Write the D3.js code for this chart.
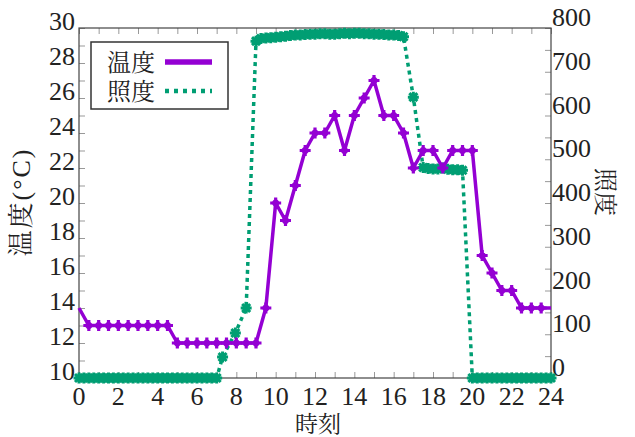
<!DOCTYPE html>
<html>
<head>
<meta charset="utf-8">
<script src="https://cdn.jsdelivr.net/npm/d3@7"></script>
<style>
  body { margin: 0; background: #fff; }
  text { font-family: "Liberation Serif", "Noto Serif CJK JP", "Noto Sans CJK JP", serif; fill: #222; }
</style>
</head>
<body>
<svg width="635" height="437"></svg>
<script>
// temperature, every half hour
const tempTime = [0, 0.5, 1, 1.5, 2, 2.5, 3, 3.5, 4, 4.5, 5, 5.5, 6, 6.5, 7, 7.5, 8, 8.5, 9, 9.5,
    10, 10.5, 11, 11.5, 12, 12.5, 13, 13.5, 14, 14.5, 15, 15.5, 16, 16.5, 17, 17.5, 18, 18.5, 19, 19.5,
    20, 20.5, 21, 21.5, 22, 22.5, 23, 23.5, 24];
const tempValue = [14, 13, 13, 13, 13, 13, 13, 13, 13, 13, 12, 12, 12, 12, 12, 12, 12, 12, 12, 14,
    20, 19, 21, 23, 24, 24, 25, 23, 25, 26, 27, 25, 25, 24, 22, 23, 23, 22, 23, 23,
    23, 17, 16, 15, 15, 14, 14, 14, 14];

// illuminance
const lightTime = [0, 0.25, 0.5, 0.75, 1, 1.25, 1.5, 1.75, 2, 2.25, 2.5, 2.75, 3, 3.25, 3.5, 3.75,
    4, 4.25, 4.5, 4.75, 5, 5.25, 5.5, 5.75, 6, 6.25, 6.5, 6.75, 7,
    7.3, 7.95, 8.5,
    9, 9.25, 9.5, 9.75, 10, 10.25, 10.5, 10.75, 11, 11.25, 11.5, 11.75, 12, 12.25, 12.5, 12.75,
    13, 13.25, 13.5, 13.75, 14, 14.25, 14.5, 14.75, 15, 15.25, 15.5, 15.75, 16, 16.25, 16.5,
    17, 17.5, 17.75, 18, 18.25, 18.5, 18.75, 19, 19.25, 19.5,
    20, 20.25, 20.5, 20.75, 21, 21.25, 21.5, 21.75, 22, 22.25, 22.5, 22.75, 23, 23.25, 23.5, 23.75, 24];
const lightValue = [0, 0, 0, 0, 0, 0, 0, 0, 0, 0, 0, 0, 0, 0, 0, 0,
    0, 0, 0, 0, 0, 0, 0, 0, 0, 0, 0, 0, 0,
    48, 103, 160,
    770, 776, 777, 778, 779, 780, 781, 783, 784, 784, 785, 786, 786, 787, 787, 786,
    786, 787, 788, 787, 788, 788, 787, 787, 786, 786, 785, 784, 784, 783, 780,
    642, 481, 479, 478, 478, 480, 477, 476, 476, 475,
    0, 0, 0, 0, 0, 0, 0, 0, 0, 0, 0, 0, 0, 0, 0, 0, 0];

const xTicks = [0, 2, 4, 6, 8, 10, 12, 14, 16, 18, 20, 22, 24];
const tempTicks = [10, 12, 14, 16, 18, 20, 22, 24, 26, 28, 30];
const lightTicks = [0, 100, 200, 300, 400, 500, 600, 700, 800];

const svg = d3.select("svg");
const margin = {left: 79, right: 84, top: 28, bottom: 59};
const W = 635, H = 437;

const x = d3.scaleLinear().domain([0, 24]).range([margin.left, W - margin.right]);
const yT = d3.scaleLinear().domain([10, 30]).range([H - margin.bottom, margin.top]);
const yL = d3.scaleLinear().domain([0, 800]).range([H - margin.bottom, margin.top]);

const purple = "#9400d3";
const green = "#009e73";
const axisColor = "#444";

// axes: ticks pointing inward
svg.append("g")
    .attr("transform", `translate(0,${H - margin.bottom})`)
    .call(d3.axisBottom(x).tickValues(d3.range(0, 25, 1)).tickSize(-6).tickFormat(""))
    .call(g => g.select(".domain").remove());
svg.append("g")
    .attr("transform", `translate(0,${margin.top})`)
    .call(d3.axisTop(x).tickValues(d3.range(0, 25, 1)).tickSize(-6).tickFormat(""))
    .call(g => g.select(".domain").remove());
svg.append("g")
    .attr("transform", `translate(${margin.left},0)`)
    .call(d3.axisLeft(yT).tickValues(d3.range(10, 31, 1)).tickSize(-6).tickFormat(""))
    .call(g => g.select(".domain").remove());
svg.append("g")
    .attr("transform", `translate(${W - margin.right},0)`)
    .call(d3.axisRight(yL).tickValues(d3.range(0, 801, 50)).tickSize(-6).tickFormat(""))
    .call(g => g.select(".domain").remove());
svg.selectAll(".tick line").attr("stroke", "#999").attr("stroke-width", 1);

// frame
svg.append("rect")
    .attr("x", margin.left).attr("y", margin.top)
    .attr("width", W - margin.left - margin.right)
    .attr("height", H - margin.top - margin.bottom)
    .attr("fill", "none").attr("stroke", axisColor).attr("stroke-width", 1.2);

// tick labels (the reference sets the y labels a little above their ticks)
svg.append("g").selectAll("text").data(xTicks).enter().append("text")
    .attr("x", d => x(d)).attr("y", H - margin.bottom + 27)
    .attr("text-anchor", "middle").attr("font-size", 26).text(d => d);
svg.append("g").selectAll("text").data(tempTicks).enter().append("text")
    .attr("x", margin.left - 4).attr("y", d => yT(d) + 2)
    .attr("text-anchor", "end").attr("font-size", 26).text(d => d);
svg.append("g").selectAll("text").data(lightTicks).enter().append("text")
    .attr("x", W - margin.right + 1).attr("y", d => yL(d) - 2)
    .attr("text-anchor", "start").attr("font-size", 26).text(d => d);

// axis titles
svg.append("text").attr("x", 318).attr("y", 432).attr("text-anchor", "middle")
    .attr("font-size", 23).text("時刻");
svg.append("text").attr("transform", "translate(30,202) rotate(-90)").attr("text-anchor", "middle")
    .attr("font-size", 26).attr("letter-spacing", 2).text("温度(°C)");
svg.append("text").attr("transform", "translate(597,192) rotate(90)").attr("text-anchor", "middle")
    .attr("font-size", 24).text("照度");

// lines
const tempData = tempTime.map((t, i) => ({t, v: tempValue[i]}));
const lightData = lightTime.map((t, i) => ({t, v: lightValue[i]}));

svg.append("path").datum(lightData)
    .attr("fill", "none").attr("stroke", green).attr("stroke-width", 3.5)
    .attr("stroke-dasharray", "4,4")
    .attr("d", d3.line().x(d => x(d.t)).y(d => yL(d.v)));

// asterisk markers for illuminance
const star = "M-5.5,0H5.5M0,-5.5V5.5M-4,-4L4,4M-4,4L4,-4";
svg.append("g").selectAll("path").data(lightData).enter().append("path")
    .attr("transform", d => `translate(${x(d.t)},${yL(d.v)})`)
    .attr("d", star).attr("stroke", green).attr("stroke-width", 3).attr("fill", "none");

svg.append("path").datum(tempData)
    .attr("fill", "none").attr("stroke", purple).attr("stroke-width", 3.5)
    .attr("stroke-linejoin", "round")
    .attr("d", d3.line().x(d => x(d.t)).y(d => yT(d.v)));

// plus markers for temperature (none on the border)
const plus = "M-5.5,0H5.5M0,-5.5V5.5M-2.5,-2.5L2.5,2.5M-2.5,2.5L2.5,-2.5";
svg.append("g").selectAll("path").data(tempData.filter(d => d.t > 0 && d.t < 24)).enter().append("path")
    .attr("transform", d => `translate(${x(d.t)},${yT(d.v)})`)
    .attr("d", plus).attr("stroke", purple).attr("stroke-width", 3.2).attr("fill", "none");

// legend
const lg = svg.append("g");
lg.append("rect").attr("x", 91).attr("y", 42).attr("width", 137).attr("height", 67)
    .attr("fill", "#fff").attr("stroke", "#333").attr("stroke-width", 1.5);
lg.append("text").attr("x", 107).attr("y", 71).attr("font-size", 24).text("温度");
lg.append("text").attr("x", 107).attr("y", 100).attr("font-size", 24).text("照度");
lg.append("line").attr("x1", 165).attr("x2", 212).attr("y1", 62).attr("y2", 62)
    .attr("stroke", purple).attr("stroke-width", 5.5);
lg.append("line").attr("x1", 165).attr("x2", 212).attr("y1", 91).attr("y2", 91)
    .attr("stroke", green).attr("stroke-width", 4.5).attr("stroke-dasharray", "4,5");
</script>
</body>
</html>
